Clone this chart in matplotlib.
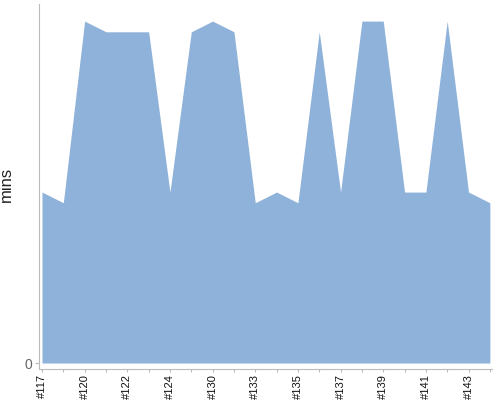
import matplotlib
matplotlib.use("Agg")
import matplotlib.pyplot as plt
import numpy as np

plt.rcParams['font.family'] = ['Liberation Sans', 'DejaVu Sans']

builds = ['#117', '#118', '#120', '#121', '#122', '#123', '#124', '#129', '#130', '#131', '#133',
          '#134', '#135', '#136', '#137', '#138', '#139', '#140', '#141', '#142', '#143', '#144']
mins = [16, 15, 32, 31, 31, 31, 16, 31, 32, 31, 15,
        16, 15, 31, 16, 32, 32, 16, 16, 32, 16, 15]

fig = plt.figure(figsize=(5, 4), dpi=100)
ax = fig.add_axes([39/500, 1-369/400, (492-39)/500, (369-4)/400])

x = np.arange(len(builds))
ax.fill_between(x, 0, mins, color='#8fb2da', linewidth=0)
ax.set_xlim(-0.14, len(builds) - 1 + 0.1)
ax.set_ylim(-0.56, 33.6)

ax.set_xticks(x)
ax.set_xticklabels([b if i % 2 == 0 else '' for i, b in enumerate(builds)],
                   rotation=90, fontsize=8, color='#111111')
ax.set_yticks([0])
ax.set_yticklabels(['0'], fontsize=10, color='#666666')
ax.tick_params(axis='x', length=2.5, color='#bbbbbb', pad=1)
ax.tick_params(axis='y', length=3, color='#bbbbbb', pad=2)
ax.set_ylabel('mins', fontsize=12, color='#222222')
ax.yaxis.set_label_coords(-(39 - 14) / 453, (369 - 184) / 365)

for s in ['top', 'right']:
    ax.spines[s].set_visible(False)
for s in ['left', 'bottom']:
    ax.spines[s].set_color('#bbbbbb')

fig.savefig('out.png', dpi=100)
